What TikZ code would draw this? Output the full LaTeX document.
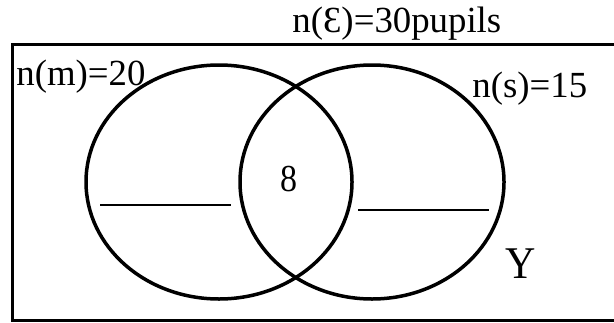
\documentclass[tikz,border=0pt]{standalone}
\usepackage{fontspec}
\setmainfont{Liberation Serif}
\begin{document}
\begin{tikzpicture}[x=0.5pt, y=0.5pt]
    \tikzset{ring/.style={line width=1.75pt},
             blank/.style={line width=1pt},
             lbl/.style={inner sep=0pt, anchor=base west, font=\fontsize{18.4}{20}\selectfont}}
    \useasboundingbox (0,0) rectangle (614,322);
    \clip (0,0) rectangle (614,322);
    % universal set
    \draw[line width=1.5pt] (12.5,2) rectangle (640,277.5);
    \node[lbl] (univ) at (292,289) {n(Ɛ)=30pupils};
    % the two sets
    \coordinate (m) at (219,140);
    \coordinate (s) at (372,140);
    \draw[ring] (m) ellipse [x radius=133, y radius=117];
    \draw[ring] (s) ellipse [x radius=132, y radius=117];
    \node[lbl] (nm) at (16,237) {n(m)=20};
    \node[lbl] (ns) at (472,225) {n(s)=15};
    \node[lbl, font=\fontsize{17}{20}\selectfont, yscale=1.12] (both) at (280,131) {8};
    \node[lbl, font=\fontsize{21}{24}\selectfont, yscale=1.08] (yy) at (505,44) {Y};
    % blanks to fill in
    \coordinate (a1) at (100,117); \coordinate (a2) at (231,117);
    \coordinate (b1) at (358,112); \coordinate (b2) at (489,112);
    \draw[blank] (a1) -- (a2);
    \draw[blank] (b1) -- (b2);
\end{tikzpicture}
\end{document}
